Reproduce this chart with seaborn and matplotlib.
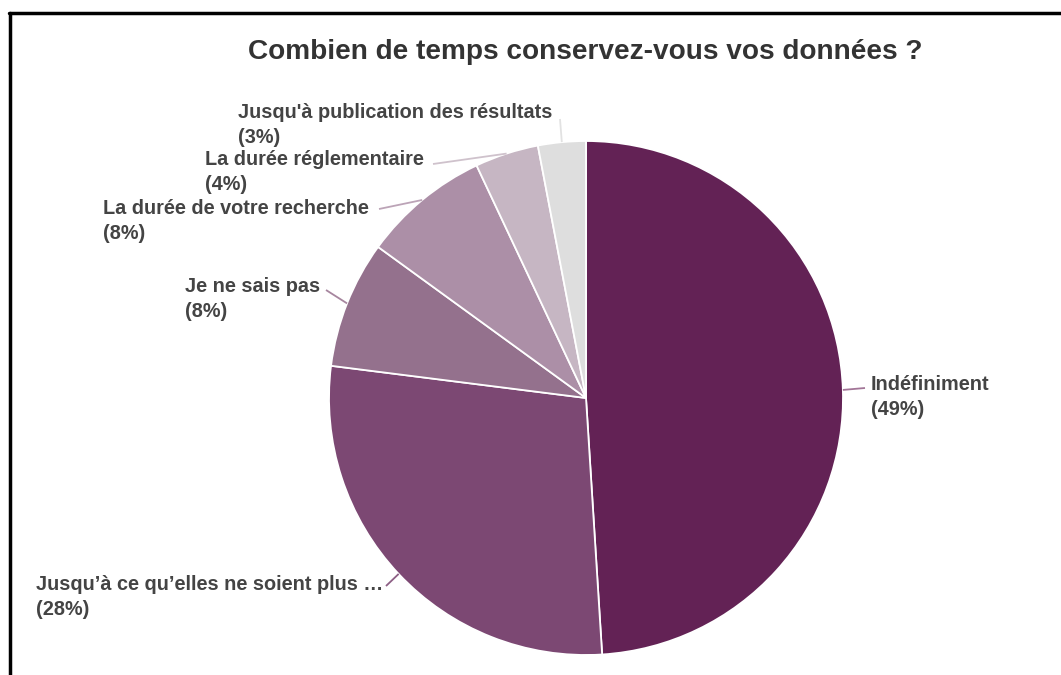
import matplotlib
matplotlib.use("Agg")
import numpy as np
import matplotlib.pyplot as plt
from matplotlib.lines import Line2D
import seaborn as sns

# data
labels = ["Indéfiniment",
          "Jusqu’à ce qu’elles ne soient plus …",
          "Je ne sais pas",
          "La durée de votre recherche",
          "La durée réglementaire",
          "Jusqu'à publication des résultats"]
values = [49, 28, 8, 8, 4, 3]
title = "Combien de temps conservez-vous vos données ?"

colors = ["#632255", "#7c4873", "#94718d", "#ac8fa7", "#c6b6c3", "#dedede"]
line_colors = ["#a27597", "#8d5f85", "#a7869f", "#bca4b7", "#cfc2cc", "#e2e2e2"]

# layout (pixels, y from top)
W, H = 1061, 675
center_px = (586, 398)
radius_px = 257
text_pos = [(871, 397), (36, 597), (185, 299), (103, 221), (205, 172), (238, 125)]
line_end = [(865, 388), (386, 586), (326, 290), (379, 209), (433, 164), (560, 119)]

sns.set_theme(style="white")
plt.rcParams['font.family'] = ['Liberation Sans', 'DejaVu Sans']

fig = plt.figure(figsize=(W / 100, H / 100), dpi=100)
ax = fig.add_axes([0, 0, 1, 1])

cx, cy = center_px[0], H - center_px[1]
wedges, _ = ax.pie(values, colors=colors, startangle=90, counterclock=False,
                   center=(cx, cy), radius=radius_px,
                   wedgeprops=dict(edgecolor="white", linewidth=1.3))
ax.set_xlim(0, W)
ax.set_ylim(0, H)
ax.set_aspect("equal")
ax.axis("off")

for w, lab, val, (tx, ty), (ex, ey), lc in zip(wedges, labels, values, text_pos, line_end, line_colors):
    ang = np.deg2rad((w.theta1 + w.theta2) / 2)
    sx = cx + radius_px * np.cos(ang)
    sy = cy + radius_px * np.sin(ang)
    ax.plot([sx, ex], [sy, H - ey], color=lc, lw=1.3, solid_capstyle="butt")
    ax.text(tx, H - ty, f"{lab}\n({val}%)", ha="left", va="center",
            fontsize=14.3, fontweight="bold", color="#444444", linespacing=1.45)

fig.text(585 / W, 1 - 52 / H, title, ha="center", va="center",
         fontsize=20.2, fontweight="bold", color="#333333")

# frame cut off at right and bottom
fig.add_artist(Line2D([10 / W, 10 / W], [0, 1 - 13 / H], color="black", lw=2.5,
                      transform=fig.transFigure))
fig.add_artist(Line2D([9 / W, 1], [1 - 13 / H, 1 - 13 / H], color="black", lw=2.5,
                      transform=fig.transFigure))

fig.savefig("out.png", dpi=100)
